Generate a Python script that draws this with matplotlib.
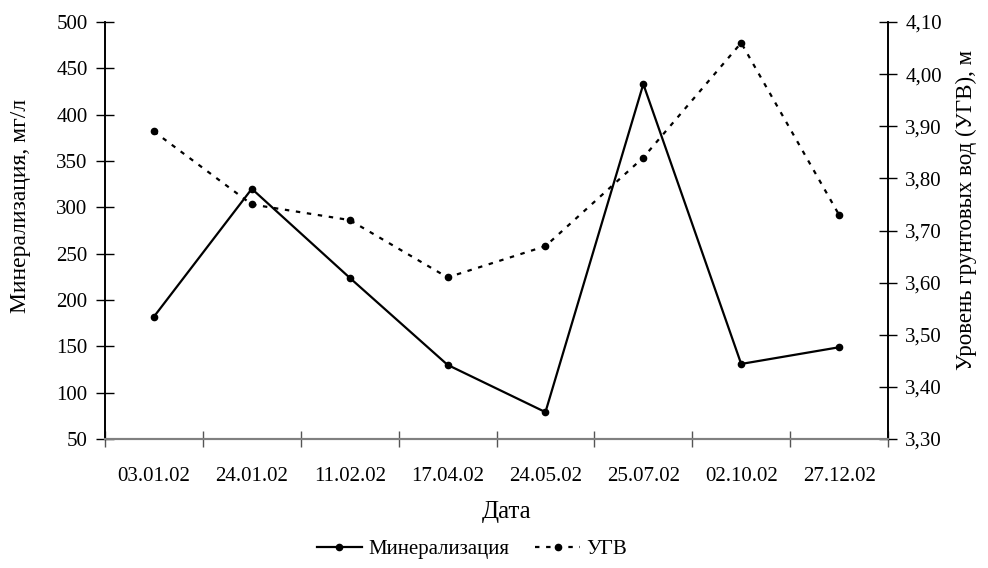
import matplotlib.pyplot as plt
import numpy as np

dates = ['03.01.02', '24.01.02', '11.02.02', '17.04.02',
         '24.05.02', '25.07.02', '02.10.02', '27.12.02']
mineral = [182, 320, 224, 130, 79, 433, 131, 149]
ugv = [3.89, 3.75, 3.72, 3.61, 3.67, 3.84, 4.06, 3.73]

left_ticks = [50, 100, 150, 200, 250, 300, 350, 400, 450, 500]
right_ticks = [3.30, 3.40, 3.50, 3.60, 3.70, 3.80, 3.90, 4.00, 4.10]

plt.rcParams['font.family'] = ['Liberation Serif', 'DejaVu Serif']
plt.rcParams['font.size'] = 15

fig = plt.figure(figsize=(9.88, 5.68), dpi=100)
ax = fig.add_axes([105 / 988, 1 - 439 / 568, 783 / 988, 417 / 568])
ax2 = ax.twinx()

x = np.arange(len(dates))
l1, = ax.plot(x, mineral, color='black', lw=1.6, marker='o', ms=4.5,
              label='Минерализация')
l2, = ax2.plot(x, ugv, color='black', lw=1.6, ls=(0, (2, 3)), marker='o',
               ms=4.5, label='УГВ')

ax.set_xlim(-0.5, len(dates) - 0.5)
ax.set_ylim(50, 500)
ax2.set_ylim(3.30, 4.10)
ax.set_yticks(left_ticks)
ax2.set_yticks(right_ticks)
ax2.set_yticklabels([f'{v:.2f}'.replace('.', ',') for v in right_ticks])

ax.set_xticks(np.arange(len(dates) + 1) - 0.5)
ax.set_xticklabels([])
ax.set_xticks(x, minor=True)
ax.set_xticklabels(dates, minor=True)
ax.tick_params(axis='x', which='major', direction='inout', length=12,
               width=1, color='#555555')
ax.tick_params(axis='x', which='minor', length=0, pad=20)
ax.tick_params(axis='y', direction='inout', length=13, width=1, pad=6)
ax2.tick_params(axis='y', direction='inout', length=13, width=1, pad=6)

for a in (ax, ax2):
    a.spines['top'].set_visible(False)
    a.spines['bottom'].set_color('#808080')
    a.spines['bottom'].set_linewidth(1.5)
    a.spines['left'].set_linewidth(1.2)
    a.spines['right'].set_linewidth(1.2)

ax.set_ylabel('Минерализация, мг/л', fontsize=17)
ax2.set_ylabel('Уровень грунтовых вод (УГВ), м', fontsize=16.5, rotation=90)
ax.set_xlabel('Дата', fontsize=18)
ax.yaxis.set_label_coords((21 - 105) / 783, (439 - 206) / 417)
ax2.yaxis.set_label_coords((966 - 105) / 783, (439 - 210) / 417)
ax.xaxis.set_label_coords((507 - 105) / 783, (439 - 512) / 417)
ax.yaxis.label.set_va('center')
ax2.yaxis.label.set_va('center')
ax.xaxis.label.set_va('center')

fig.legend(handles=[l1, l2], loc='center', bbox_to_anchor=(472 / 988, 1 - 549 / 568),
           ncol=2, frameon=False, handlelength=2.2, columnspacing=1.2,
           handletextpad=0.3)

fig.savefig('out.png', dpi=100)
